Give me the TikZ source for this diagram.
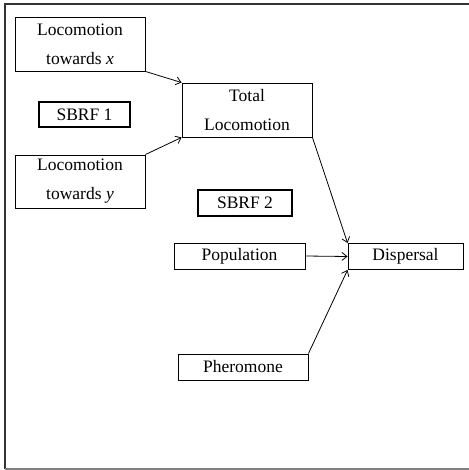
\documentclass[tikz,border=0pt]{standalone}
\usepackage{fontspec}
\setmainfont{Liberation Serif}
\usetikzlibrary{arrows.meta}
\begin{document}
\begin{tikzpicture}[x=1pt,y=-1pt,
  every node/.style={font=\fontsize{17.5}{29}\selectfont},
  box/.style={draw,line width=0.9pt,rectangle,inner sep=0pt,align=center,anchor=center},
  sbrf/.style={box,line width=1.8pt},
  conn/.style={line width=0.8pt,-{Straight Barb[length=5pt,width=8pt]}}]
\useasboundingbox (0,0) rectangle (468,470);
\draw[line width=2pt,color=black!80] (470,4) -- (5,4) -- (5,469);
\draw[line width=2pt,color=black!50] (5,469) -- (470,469);
\node[box,minimum width=130pt,minimum height=54pt] (lx) at (80,44) {Locomotion\\towards \textit{x}};
\node[sbrf,minimum width=91pt,minimum height=25pt] (s1) at (84.5,114.5) {SBRF 1};
\node[box,minimum width=130pt,minimum height=53pt] (ly) at (80,181.5) {Locomotion\\towards \textit{y}};
\node[box,minimum width=130pt,minimum height=54pt] (tl) at (247,110) {Total\\Locomotion};
\node[sbrf,minimum width=94pt,minimum height=26pt] (s2) at (245,203) {SBRF 2};
\node[box,minimum width=131pt,minimum height=26pt] (pop) at (239.5,256) {Population};
\node[box,minimum width=115pt,minimum height=26pt] (disp) at (405.5,256.5) {Dispersal};
\node[box,minimum width=130pt,minimum height=26pt] (pher) at (243,367) {Pheromone};
\draw[conn] (lx.south east) -- (tl.north west);
\draw[conn] (ly.north east) -- (tl.south west);
\draw[conn] (tl.south east) -- (disp.north west);
\draw[conn] (pop.east) -- (disp.west);
\draw[conn] (pher.north east) -- (disp.south west);
\end{tikzpicture}
\end{document}
